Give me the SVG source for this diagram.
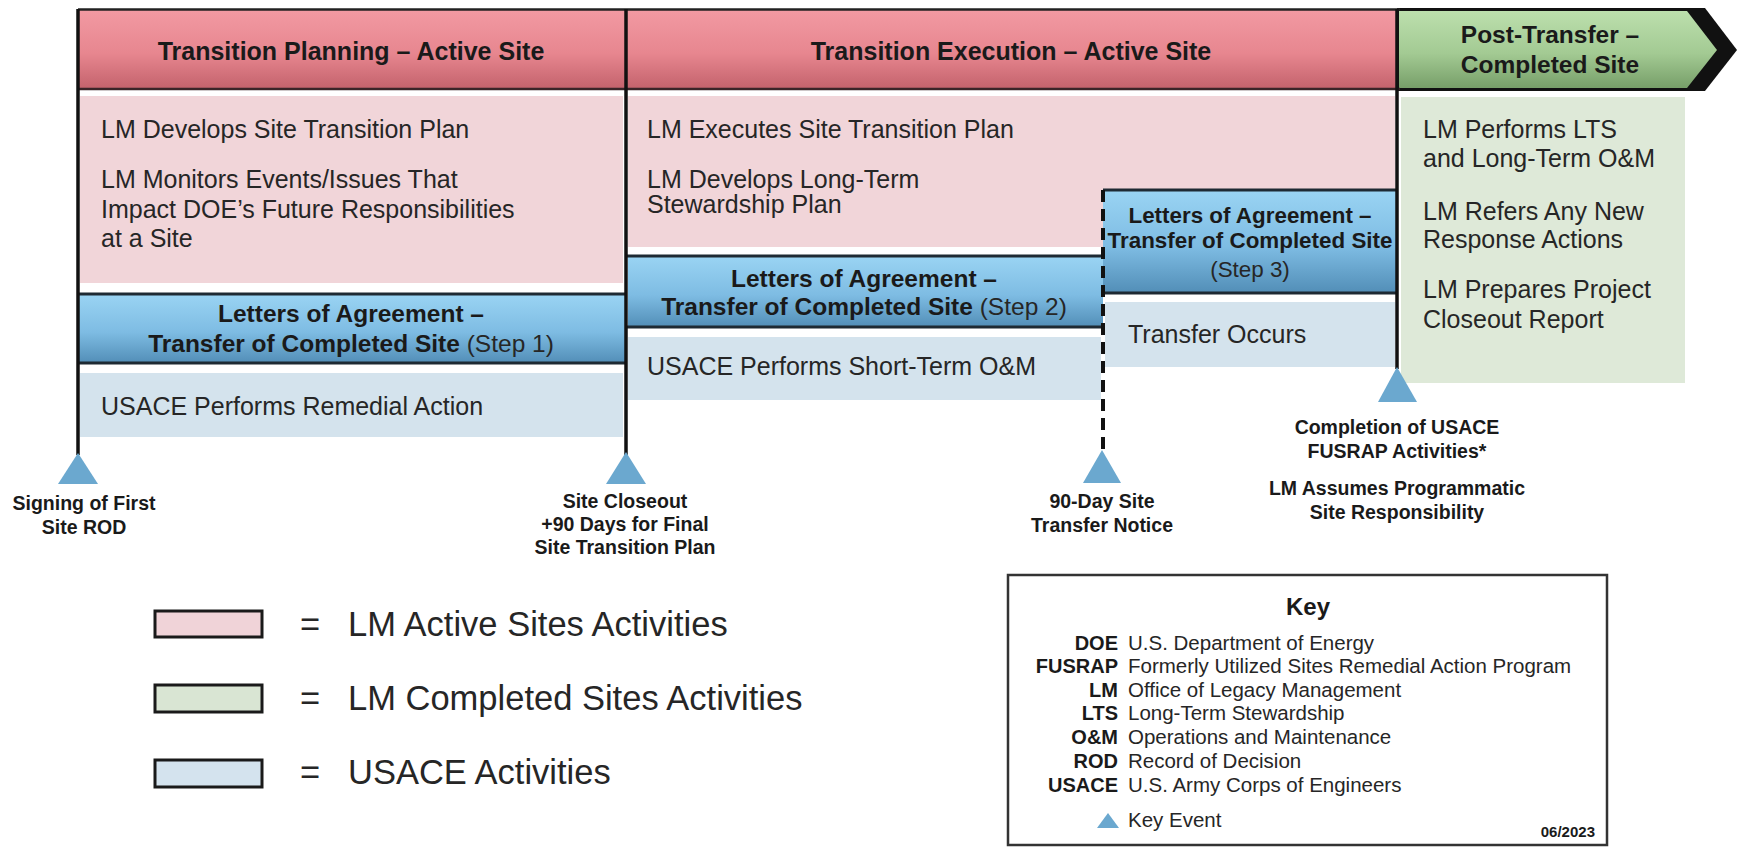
<svg xmlns="http://www.w3.org/2000/svg" width="1738" height="847" viewBox="0 0 1738 847">
<defs>
<linearGradient id="gPink" x1="0" y1="0" x2="0" y2="1">
<stop offset="0" stop-color="#f29aa3"/><stop offset="0.55" stop-color="#e7868f"/><stop offset="1" stop-color="#c2616b"/>
</linearGradient>
<linearGradient id="gGreen" x1="0" y1="0" x2="0" y2="1">
<stop offset="0" stop-color="#bcdfad"/><stop offset="0.55" stop-color="#a3ca93"/><stop offset="1" stop-color="#779f69"/>
</linearGradient>
<linearGradient id="gBlue" x1="0" y1="0" x2="0" y2="1">
<stop offset="0" stop-color="#9ad4f3"/><stop offset="0.55" stop-color="#7ebce3"/><stop offset="1" stop-color="#528eb7"/>
</linearGradient>
<style>
text{font-family:"Liberation Sans",Arial,Helvetica,sans-serif;fill:#262626}
.b{font-weight:bold;fill:#1a1a1a}
.h{font-size:25px;font-weight:bold;text-anchor:middle;fill:#1a1a1a}
.t{font-size:25px}
.s{font-size:24.5px;text-anchor:middle}
.s3{font-size:22.4px;text-anchor:middle}
.ev{font-size:19.5px;font-weight:bold;text-anchor:middle;fill:#1a1a1a}
.lg{font-size:34.5px}
.k{font-size:20.5px}
.ka{font-size:20px;font-weight:bold;text-anchor:end;fill:#1a1a1a}
.pink{fill:#f1d5d9}
.lblue{fill:#d4e3ed}
.lgreen{fill:#dee9d8}
.step{fill:url(#gBlue)}
.bord{stroke:#1e2a33;stroke-width:3;fill:none}
.vline{stroke:#111;stroke-width:3.5;fill:none}
.tri{fill:#6ba8cf}
.leg{stroke:#1a1a1a;stroke-width:3}
</style>
</defs>

<g id="header-planning">
<rect x="78" y="9" width="548" height="81" fill="url(#gPink)"/>
<text class="h" x="351" y="60">Transition Planning – Active Site</text>
</g>
<g id="header-execution">
<rect x="626" y="9" width="771" height="81" fill="url(#gPink)"/>
<text class="h" x="1011" y="60">Transition Execution – Active Site</text>
</g>
<g id="header-post">
<polygon points="1397,8 1705,8 1737,50 1705,91 1397,91" fill="#111"/>
<polygon points="1399,11 1687,11 1717,50 1687,88 1399,88" fill="url(#gGreen)"/>
<text class="h" x="1550" y="43" style="font-size:24.5px">Post-Transfer –</text>
<text class="h" x="1550" y="73" style="font-size:24.5px">Completed Site</text>
</g>
<g id="header-borders">
<line x1="78" y1="9.5" x2="1400" y2="9.5" stroke="#222" stroke-width="2.5"/>
<line x1="78" y1="89" x2="1400" y2="89" stroke="#3a2428" stroke-width="2.5"/>
</g>

<g id="planning-lm">
<rect class="pink" x="80" y="96" width="543" height="187"/>
<text class="t" x="101" y="138">LM Develops Site Transition Plan</text>
<text class="t" x="101" y="188">LM Monitors Events/Issues That</text>
<text class="t" x="101" y="218">Impact DOE’s Future Responsibilities</text>
<text class="t" x="101" y="247">at a Site</text>
</g>
<g id="step1">
<rect class="step" x="78" y="294" width="548" height="69"/>
<line class="bord" x1="78" y1="294" x2="626" y2="294"/>
<line class="bord" x1="78" y1="363" x2="626" y2="363"/>
<text class="s" x="351" y="322"><tspan class="b">Letters of Agreement –</tspan></text>
<text class="s" x="351" y="352"><tspan class="b">Transfer of Completed Site</tspan> (Step 1)</text>
</g>
<g id="usace-remedial">
<rect class="lblue" x="80" y="373" width="543" height="64"/>
<text class="t" x="101" y="415">USACE Performs Remedial Action</text>
</g>

<g id="execution-lm">
<rect class="pink" x="628" y="96" width="767" height="151"/>
<text class="t" x="647" y="138">LM Executes Site Transition Plan</text>
<text class="t" x="647" y="188">LM Develops Long-Term</text>
<text class="t" x="647" y="213">Stewardship Plan</text>
</g>
<g id="step2">
<rect class="step" x="628" y="256" width="475" height="71"/>
<line class="bord" x1="626" y1="256" x2="1103" y2="256"/>
<line class="bord" x1="626" y1="327" x2="1103" y2="327"/>
<text class="s" x="864" y="287"><tspan class="b">Letters of Agreement –</tspan></text>
<text class="s" x="864" y="315"><tspan class="b">Transfer of Completed Site</tspan> (Step 2)</text>
</g>
<g id="usace-short-term">
<rect class="lblue" x="628" y="337" width="473" height="63"/>
<text class="t" x="647" y="375">USACE Performs Short-Term O&amp;M</text>
</g>
<g id="step3">
<rect class="step" x="1103" y="190" width="294" height="103"/>
<line class="bord" x1="1103" y1="190" x2="1397" y2="190"/>
<line class="bord" x1="1103" y1="293" x2="1397" y2="293"/>
<text class="s3" x="1250" y="223"><tspan class="b">Letters of Agreement –</tspan></text>
<text class="s3" x="1250" y="248"><tspan class="b">Transfer of Completed Site</tspan></text>
<text class="s3" x="1250" y="277">(Step 3)</text>
</g>
<g id="transfer-occurs">
<rect class="lblue" x="1105" y="302" width="290" height="65"/>
<text class="t" x="1128" y="343">Transfer Occurs</text>
</g>

<g id="post-lm">
<rect class="lgreen" x="1401" y="97" width="284" height="286"/>
<text class="t" x="1423" y="138">LM Performs LTS</text>
<text class="t" x="1423" y="167">and Long-Term O&amp;M</text>
<text class="t" x="1423" y="220">LM Refers Any New</text>
<text class="t" x="1423" y="248">Response Actions</text>
<text class="t" x="1423" y="298">LM Prepares Project</text>
<text class="t" x="1423" y="328">Closeout Report</text>
</g>

<g id="connectors">
<line class="vline" x1="78" y1="9" x2="78" y2="455"/>
<line class="vline" x1="626" y1="9" x2="626" y2="455"/>
<line class="vline" x1="1397" y1="9" x2="1397" y2="369"/>
<line x1="1103" y1="190" x2="1103" y2="452" stroke="#111" stroke-width="4" stroke-dasharray="12 7"/>
</g>

<g id="event-signing">
<polygon class="tri" points="78,453 58,484 98,484"/>
<text class="ev" x="84" y="510">Signing of First</text>
<text class="ev" x="84" y="534">Site ROD</text>
</g>
<g id="event-closeout">
<polygon class="tri" points="626,452 606,484 646,484"/>
<text class="ev" x="625" y="508">Site Closeout</text>
<text class="ev" x="625" y="531">+90 Days for Final</text>
<text class="ev" x="625" y="554">Site Transition Plan</text>
</g>
<g id="event-notice">
<polygon class="tri" points="1102,450 1083,483 1121,483"/>
<text class="ev" x="1102" y="508">90-Day Site</text>
<text class="ev" x="1102" y="532">Transfer Notice</text>
</g>
<g id="event-completion">
<polygon class="tri" points="1397,367 1378,402 1417,402"/>
<text class="ev" x="1397" y="434">Completion of USACE</text>
<text class="ev" x="1397" y="458">FUSRAP Activities*</text>
<text class="ev" x="1397" y="495">LM Assumes Programmatic</text>
<text class="ev" x="1397" y="519">Site Responsibility</text>
</g>

<g id="legend">
<rect class="leg" x="155" y="611" width="107" height="26" fill="#f0d3d8"/>
<rect class="leg" x="155" y="685" width="107" height="27" fill="#d9e5d3"/>
<rect class="leg" x="155" y="760" width="107" height="27" fill="#d4e3ee"/>
<text class="lg" x="300" y="636">=</text>
<text class="lg" x="300" y="710">=</text>
<text class="lg" x="300" y="784">=</text>
<text class="lg" x="348" y="636">LM Active Sites Activities</text>
<text class="lg" x="348" y="710">LM Completed Sites Activities</text>
<text class="lg" x="348" y="784">USACE Activities</text>
</g>

<g id="key">
<rect x="1008" y="575" width="599" height="270" fill="#fff" stroke="#333" stroke-width="2.5"/>
<text class="b" x="1308" y="615" style="font-size:24px;text-anchor:middle">Key</text>
<text class="ka" x="1118" y="650">DOE</text><text class="k" x="1128" y="650">U.S. Department of Energy</text>
<text class="ka" x="1118" y="673">FUSRAP</text><text class="k" x="1128" y="673">Formerly Utilized Sites Remedial Action Program</text>
<text class="ka" x="1118" y="697">LM</text><text class="k" x="1128" y="697">Office of Legacy Management</text>
<text class="ka" x="1118" y="720">LTS</text><text class="k" x="1128" y="720">Long-Term Stewardship</text>
<text class="ka" x="1118" y="744">O&amp;M</text><text class="k" x="1128" y="744">Operations and Maintenance</text>
<text class="ka" x="1118" y="768">ROD</text><text class="k" x="1128" y="768">Record of Decision</text>
<text class="ka" x="1118" y="792">USACE</text><text class="k" x="1128" y="792">U.S. Army Corps of Engineers</text>
<polygon class="tri" points="1108,813 1097,828 1119,828"/>
<text class="k" x="1128" y="827">Key Event</text>
<text class="b" x="1595" y="837" style="font-size:15px;text-anchor:end">06/2023</text>
</g>
</svg>
